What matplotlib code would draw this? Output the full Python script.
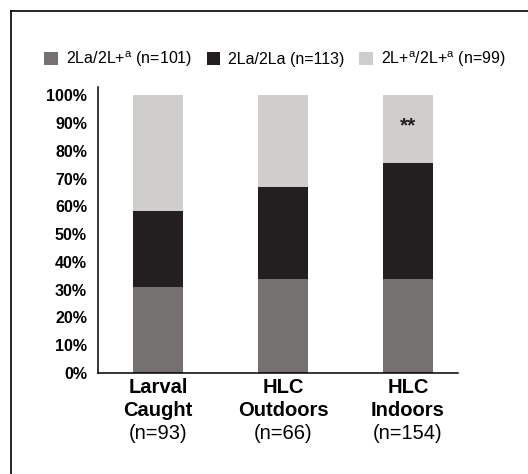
import matplotlib

matplotlib.use("Agg")
import matplotlib.pyplot as plt  # noqa: E402
from matplotlib.lines import Line2D  # noqa: E402
from matplotlib.transforms import blended_transform_factory  # noqa: E402

# Data (percent of each group)
categories = ["Larval\nCaught", "HLC\nOutdoors", "HLC\nIndoors"]
group_n = ["(n=93)", "(n=66)", "(n=154)"]
het = [30.8, 33.8, 33.8]  # 2La/2L+a
hom_la = [27.6, 33.1, 41.7]  # 2La/2La
hom_plus = [41.6, 33.1, 24.5]  # 2L+a/2L+a
series_labels = [
    r"2La/2L+$^{\mathrm{a}}$ (n=101)",
    r"2La/2La (n=113)",
    r"2L+$^{\mathrm{a}}$/2L+$^{\mathrm{a}}$ (n=99)",
]
signif = "**"

COLORS = ["#767171", "#231f20", "#d0cecd"]

plt.rcParams.update(
    {
        "font.family": ["Liberation Sans", "DejaVu Sans"],
        "mathtext.fontset": "custom",
        "mathtext.rm": "Liberation Sans",
        "mathtext.it": "Liberation Sans:italic",
        "mathtext.bf": "Liberation Sans:bold",
    }
)

W, H = 528, 474
fig = plt.figure(figsize=(W / 100, H / 100), dpi=100)
ax = fig.add_axes([98 / W, 1 - 373 / H, 360 / W, 286 / H])

x = list(range(len(categories)))
bottom2 = [a + b for a, b in zip(het, hom_la)]
handles = []
handles.append(ax.bar(x, het, width=0.4, color=COLORS[0], label=series_labels[0]))
handles.append(
    ax.bar(x, hom_la, width=0.4, bottom=het, color=COLORS[1], label=series_labels[1])
)
handles.append(
    ax.bar(
        x, hom_plus, width=0.4, bottom=bottom2, color=COLORS[2], label=series_labels[2]
    )
)

ax.set_xlim(-0.48, 2.4)
ax.set_ylim(0, 103)
ax.set_yticks(range(0, 101, 10))
ax.set_yticklabels([f"{v}%" for v in range(0, 101, 10)], fontweight="bold", fontsize=11.5)
ax.tick_params(axis="y", length=0, pad=8)
ax.set_xticks([])
for s in ("top", "right"):
    ax.spines[s].set_visible(False)
for s in ("left", "bottom"):
    ax.spines[s].set_linewidth(1.1)

# significance mark on the indoor bar
ax.text(2, 89, signif, ha="center", va="center", fontsize=15, fontweight="bold",
        color="#231f20")

# category labels under the axis
tr = blended_transform_factory(ax.transData, fig.transFigure)
for i, (cat, n) in enumerate(zip(categories, group_n)):
    l1, l2 = cat.split("\n")
    ax.text(i, 1 - 393 / H, l1, transform=tr, ha="center", va="baseline",
            fontsize=14.5, fontweight="bold")
    ax.text(i, 1 - 416 / H, l2, transform=tr, ha="center", va="baseline",
            fontsize=14.5, fontweight="bold")
    ax.text(i, 1 - 439 / H, n, transform=tr, ha="center", va="baseline",
            fontsize=14.5)

fig.legend(
    handles=handles,
    loc="center",
    bbox_to_anchor=(275 / W, 1 - 59 / H),
    ncol=3,
    frameon=False,
    fontsize=11.5,
    handlelength=0.86,
    handleheight=0.86,
    handletextpad=0.5,
    columnspacing=0.9,
    borderpad=0,
)

# partial frame around the figure
fig.add_artist(Line2D([11 / W, 1], [1 - 11 / H] * 2, color="black", lw=1.2))
fig.add_artist(Line2D([11 / W] * 2, [0, 1 - 11 / H], color="black", lw=1.2))

fig.savefig("out.png", dpi=100)
